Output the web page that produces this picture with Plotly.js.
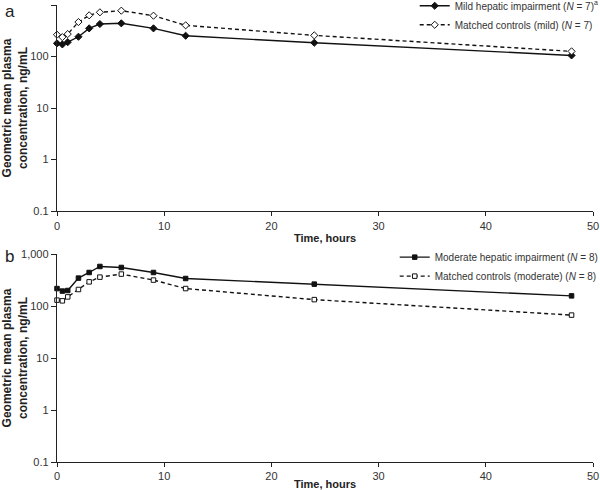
<!DOCTYPE html>
<html>
<head>
<meta charset="utf-8">
<script src="https://cdn.plot.ly/plotly-3.0.1.min.js"></script>
<style>html,body{margin:0;padding:0;background:#fff}#chart{width:600px;height:490px}</style>
</head>
<body>
<div id="chart"></div>
<script>
// Time points (hours)
const timeHours = [0, 0.5, 1, 2, 3, 4, 6, 9, 12, 24, 48];

// Panel a
const mildImpairment = [180, 172, 190, 242, 352, 427, 441, 352, 253, 185, 105];
const mildControls   = [265, 238, 273, 467, 630, 721, 776, 620, 403, 257, 126];

// Panel b
const moderateImpairment = [217, 194, 199, 345, 442, 577, 552, 442, 339, 264, 157];
const moderateControls   = [130, 126, 150, 208, 292, 360, 412, 316, 217, 133, 67];

const yTickVals = [0.1, 1, 10, 100, 1000];
const yTickText = ['0.1', '1', '10', '100', '1,000'];
const xTickVals = [0, 10, 20, 30, 40, 50];

const seriesNames = [
  'Mild hepatic impairment (<i>N</i> = 7)<sup>a</sup>',
  'Matched controls (mild) (<i>N</i> = 7)',
  'Moderate hepatic impairment (<i>N</i> = 8)',
  'Matched controls (moderate) (<i>N</i> = 8)'
];

const lineCol = '#111';
function tr(y, name, xa, ya, dash, sym, fill, size, leg) {
  return {
    x: timeHours, y: y, name: name, type: 'scatter', mode: 'lines+markers',
    xaxis: xa, yaxis: ya, legend: leg,
    line: {color: lineCol, width: 1.4, dash: dash},
    marker: {symbol: sym, size: size, color: fill, line: {color: lineCol, width: 1}},
    cliponaxis: false
  };
}

const data = [
  tr(mildImpairment, seriesNames[0], 'x', 'y', 'solid', 'diamond', lineCol, 5.5, 'legend'),
  tr(mildControls, seriesNames[1], 'x', 'y', '4px,3px', 'diamond', '#fff', 5.5, 'legend'),
  tr(moderateImpairment, seriesNames[2], 'x2', 'y2', 'solid', 'square', lineCol, 4.5, 'legend2'),
  tr(moderateControls, seriesNames[3], 'x2', 'y2', '4px,3px', 'square', '#fff', 4.5, 'legend2')
];

const tickFont = {family: 'Liberation Sans, Arial, sans-serif', size: 11, color: '#333'};
const xTitleFont = {family: 'Liberation Sans, Arial, sans-serif', size: 11, color: '#222', weight: 'bold'};
const yTitleFont = {family: 'Liberation Sans, Arial, sans-serif', size: 12, color: '#222', weight: 'bold'};

function xax(anchor) {
  return {
    anchor: anchor, range: [0, 50], tickvals: xTickVals, ticks: 'outside', ticklen: 4,
    tickcolor: '#222', showline: true, linecolor: '#222', linewidth: 1.2, showgrid: false,
    zeroline: false, tickfont: tickFont,
    title: {text: '<b>Time, hours</b>', font: xTitleFont, standoff: 3}
  };
}
function yax(anchor, domain) {
  return {
    anchor: anchor, domain: domain, type: 'log', range: [-1, 3], tickvals: yTickVals,
    ticktext: yTickText, ticks: 'outside', ticklen: 5, tickcolor: '#222', showline: true,
    linecolor: '#222', linewidth: 1.2, showgrid: false, zeroline: false, tickfont: tickFont,
    title: {text: '<b>Geometric mean plasma<br>concentration, ng/mL</b>', font: yTitleFont, standoff: 5}
  };
}

const legFont = {family: 'Liberation Sans, Arial, sans-serif', size: 10, color: '#333'};
const layout = {
  width: 600, height: 490,
  margin: {l: 57, r: 7, t: 5, b: 28, autoexpand: false},
  paper_bgcolor: '#fff', plot_bgcolor: '#fff',
  showlegend: true,
  xaxis: xax('y'),
  yaxis: yax('x', [0.549, 1]),
  xaxis2: xax('y2'),
  yaxis2: yax('x2', [0, 0.455]),
  legend: {x: 1.02, y: 1.03, xanchor: 'right', yanchor: 'top', font: legFont,
           bgcolor: 'rgba(0,0,0,0)', tracegroupgap: 0, itemwidth: 30},
  legend2: {x: 1.02, y: 0.48, xanchor: 'right', yanchor: 'top', font: legFont,
            bgcolor: 'rgba(0,0,0,0)', tracegroupgap: 0, itemwidth: 30},
  annotations: [
    {text: 'a', xref: 'paper', yref: 'paper', x: -0.1, y: 1.01, xanchor: 'left', yanchor: 'top',
     showarrow: false, font: {family: 'Liberation Sans, Arial, sans-serif', size: 17, color: '#222'}},
    {text: 'b', xref: 'paper', yref: 'paper', x: -0.1, y: 0.475, xanchor: 'left', yanchor: 'top',
     showarrow: false, font: {family: 'Liberation Sans, Arial, sans-serif', size: 17, color: '#222'}}
  ]
};

Plotly.newPlot('chart', data, layout, {displayModeBar: false, staticPlot: true});
</script>
</body>
</html>
